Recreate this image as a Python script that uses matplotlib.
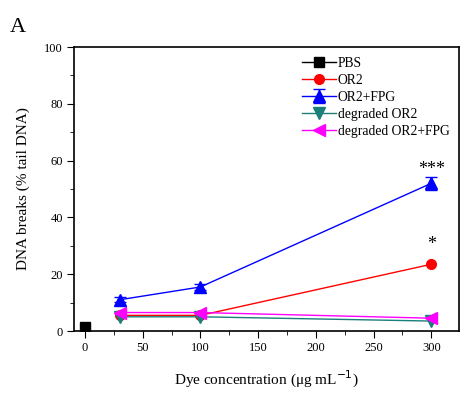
import numpy as np
import matplotlib.pyplot as plt

plt.rcParams['font.family'] = ['Liberation Serif', 'DejaVu Serif']

# Data
conc = [30, 100, 300]
pbs_x = [0]
pbs_y = [1.4]
or2 = [5.5, 5.5, 23.5]
or2_fpg = [11.0, 15.5, 52.0]
or2_fpg_err = [0.8, 1.0, 2.2]
deg_or2 = [5.0, 5.0, 3.5]
deg_or2_fpg = [6.5, 6.5, 4.5]

fig = plt.figure(figsize=(4.61, 3.93), dpi=100)
ax = fig.add_axes([74 / 461, 1 - 331 / 393, 385 / 461, 284 / 393])

ms = 7
h1, = ax.plot(pbs_x, pbs_y, '-s', color='black', ms=ms, lw=1, label='PBS')
h2, = ax.plot(conc, or2, '-o', color='red', ms=ms, lw=1, label='OR2')
h3 = ax.errorbar(conc, or2_fpg, yerr=or2_fpg_err, fmt='-^', color='blue', ms=ms + 2, lw=1,
                 capsize=4, label='OR2+FPG')
h4, = ax.plot(conc, deg_or2, '-v', color='#1a7f7a', ms=ms + 2, lw=1, label='degraded OR2')
h5, = ax.plot(conc, deg_or2_fpg, '-<', color='magenta', ms=ms + 2, lw=1, label='degraded OR2+FPG')

# significance marks
ax.text(300, 57, '***', ha='center', va='center', fontsize=13)
ax.text(300, 30.5, '*', ha='center', va='center', fontsize=13)

ax.set_xlim(-9.5, 324)
ax.set_ylim(0, 100)
ax.set_xticks([0, 50, 100, 150, 200, 250, 300])
ax.set_xticks(np.arange(25, 325, 50), minor=True)
ax.set_yticks([0, 20, 40, 60, 80, 100])
ax.set_yticks(np.arange(10, 100, 20), minor=True)
ax.tick_params(axis='both', which='major', direction='out', length=5, labelsize=9, pad=3)
ax.tick_params(axis='both', which='minor', direction='out', length=3)
for s in ax.spines.values():
    s.set_linewidth(1.2)

ax.set_xlabel('Dye concentration (μg mL$^{-1}$)', fontsize=11, labelpad=11)
ax.set_ylabel('DNA breaks (% tail DNA)', fontsize=11, labelpad=10)

ax.legend([h1, h2, h3, h4, h5],
          ['PBS', 'OR2', 'OR2+FPG', 'degraded OR2', 'degraded OR2+FPG'],
          loc='upper right', frameon=False, fontsize=9.8, handlelength=2.5,
          handletextpad=0.1, labelspacing=0.3, borderaxespad=0.3)

fig.text(10 / 461, 1 - 28 / 393, 'A', fontsize=16, ha='left', va='center')

fig.savefig('out.png', dpi=100)
